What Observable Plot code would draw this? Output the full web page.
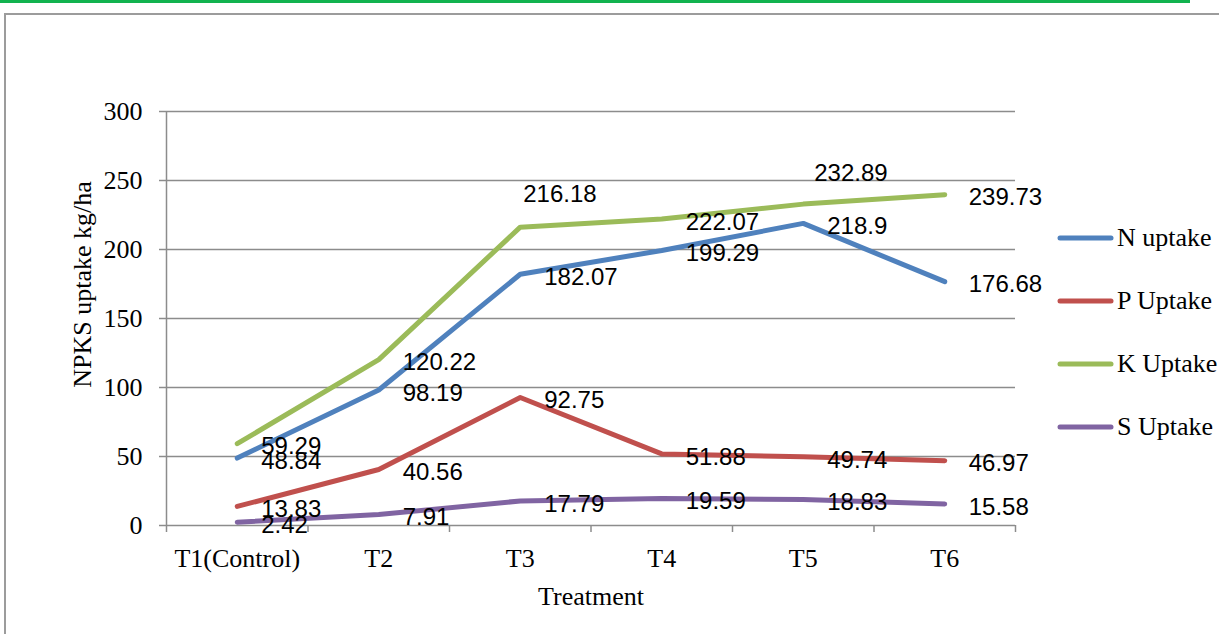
<!DOCTYPE html>
<html><head><meta charset="utf-8">
<script src="https://cdn.jsdelivr.net/npm/d3@7"></script>
<script src="https://cdn.jsdelivr.net/npm/@observablehq/plot@0.6"></script>
<style>
html,body{margin:0;padding:0;background:#fff;}
#wrap{position:relative;width:1219px;height:634px;overflow:hidden;background:#fff;}
#green{position:absolute;left:0;top:0;width:1190px;height:3px;background:#12b34f;}
#frameTop{position:absolute;left:4px;top:13px;right:0;height:2px;background:#9c9c9c;}
#frameLeft{position:absolute;left:4px;top:13px;bottom:0;width:2px;background:#9c9c9c;}
#chart{position:absolute;left:0;top:0;}
.leg{position:absolute;left:1057px;height:30px;display:flex;align-items:center;font-family:"Liberation Serif",serif;font-size:26px;color:#000;white-space:nowrap;}
.leg svg{margin-right:3px;}
</style></head>
<body>
<div id="wrap">
  <div id="green"></div>
  <div id="frameTop"></div>
  <div id="frameLeft"></div>
  <div id="chart"></div>
  <div id="legend"></div>
</div>
<script>
const categories = ["T1(Control)", "T2", "T3", "T4", "T5", "T6"];
const seriesNames = ["N uptake", "P Uptake", "K Uptake", "S Uptake"];
const seriesColors = ["#4F81BD", "#C0504D", "#9BBB59", "#8064A2"];
const nUptake = [48.84, 98.19, 182.07, 199.29, 218.9, 176.68];
const pUptake = [13.83, 40.56, 92.75, 51.88, 49.74, 46.97];
const kUptake = [59.29, 120.22, 216.18, 222.07, 232.89, 239.73];
const sUptake = [2.42, 7.91, 17.79, 19.59, 18.83, 15.58];
const yTicks = [0, 50, 100, 150, 200, 250, 300];

const seriesValues = [nUptake, pUptake, kUptake, sUptake];
const data = [];
seriesNames.forEach((name, si) => {
  categories.forEach((cat, i) => {
    data.push({series: name, cat, i, value: seriesValues[si][i]});
  });
});

// K labels at T3 and T5 sit above their points in the original
const isAbove = d => d.series === "K Uptake" && (d.cat === "T3" || d.cat === "T5");
const xPos = d => d.i + 0.5;
const grid = "#8c8c8c";
const labelFont = {fontFamily: "Liberation Sans", fontSize: 24, fill: "#000", textAnchor: "start"};

const chart = Plot.plot({
  width: 1219,
  height: 634,
  marginLeft: 166,
  marginRight: 204,
  marginTop: 111,
  marginBottom: 109,
  style: {fontFamily: "Liberation Serif", fontSize: "26px", background: "transparent", color: "#000"},
  x: {type: "linear", domain: [0, categories.length]},
  y: {domain: [0, 300]},
  color: {domain: seriesNames, range: seriesColors},
  marks: [
    Plot.ruleY(yTicks, {stroke: grid, strokeWidth: 1.5}),
    Plot.ruleX([0], {y1: 0, y2: 300, stroke: grid, strokeWidth: 1.5}),
    Plot.axisY({ticks: yTicks, tickSize: 7, tickPadding: 17, stroke: grid, strokeWidth: 1.5, fill: "#000", label: null, fontSize: 26}),
    Plot.axisX({ticks: d3.range(categories.length + 1), tickSize: 7, tickFormat: () => "", stroke: grid, strokeWidth: 1.5, label: null}),
    Plot.axisX({ticks: categories.map((c, i) => i + 0.5), tickSize: 0, tickPadding: 23, tickFormat: v => categories[Math.round(v - 0.5)], fill: "#000", label: null, fontSize: 26}),
    Plot.text(["Treatment"], {frameAnchor: "bottom", dy: 71, lineAnchor: "middle", fontSize: 26, fill: "#000"}),
    Plot.text(["NPKS uptake kg/ha"], {frameAnchor: "left", textAnchor: "middle", rotate: -90, dx: -84, dy: -34, lineAnchor: "middle", fontSize: 26, fill: "#000"}),
    Plot.line(data, {x: xPos, y: "value", z: "series", stroke: "series", strokeWidth: 5, strokeLinecap: "round", strokeLinejoin: "round"}),
    Plot.text(data.filter(d => !isAbove(d)), {x: xPos, y: "value", text: d => String(d.value), dx: 24, dy: 3, ...labelFont}),
    Plot.text(data.filter(d => isAbove(d) && d.cat === "T3"), {x: xPos, y: "value", text: d => String(d.value), dx: 3, dy: -33, ...labelFont}),
    Plot.text(data.filter(d => isAbove(d) && d.cat === "T5"), {x: xPos, y: "value", text: d => String(d.value), dx: 11, dy: -31, ...labelFont})
  ]
});
document.getElementById("chart").appendChild(chart);

const legend = document.getElementById("legend");
seriesNames.forEach((name, i) => {
  const item = document.createElement("div");
  item.className = "leg";
  item.style.top = (223 + i * 63) + "px";
  item.innerHTML = `<svg width="57" height="10"><line x1="3" y1="5" x2="54" y2="5" stroke="${seriesColors[i]}" stroke-width="5" stroke-linecap="round"/></svg><span>${name}</span>`;
  legend.appendChild(item);
});
</script>
</body></html>
